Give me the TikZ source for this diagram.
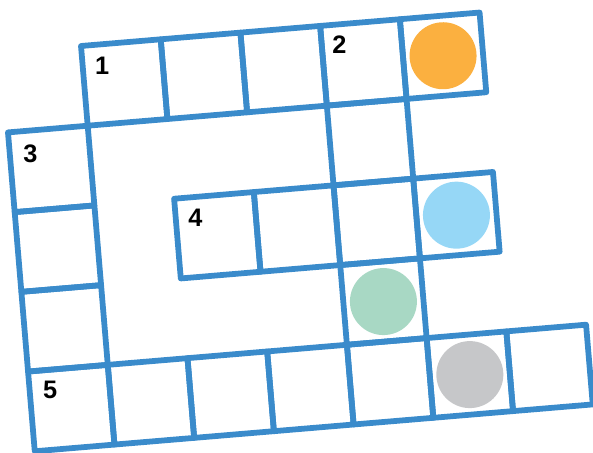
\documentclass[tikz,border=0pt]{standalone}
\usepackage{fontspec}
\setmainfont{Liberation Sans}
\usetikzlibrary{positioning,calc}
\definecolor{gridblue}{HTML}{3A8BCB}
\definecolor{tokorange}{HTML}{FBB040}
\definecolor{tokblue}{HTML}{96D7F6}
\definecolor{tokgreen}{HTML}{A8D8C4}
\definecolor{tokgrey}{HTML}{C6C7C9}

\begin{document}
\begin{tikzpicture}[
  x=0.025cm, y=-0.025cm,
  cell/.style={draw=gridblue,line width=4.1pt,line join=round,line cap=round},
  num/.style={anchor=north west,inner sep=0pt,font=\fontsize{18}{18}\selectfont\bfseries},
  token/.style={radius=33.5}
]
  \useasboundingbox (0,0) rectangle (593,453);
  \begin{scope}[shift={(81,46)},rotate=4.8]
    % cell corners: column c, row r
    \foreach \c/\r in {1/0,2/0,3/0,4/0,5/0,
                       0/1,4/1,
                       0/2,2/2,3/2,4/2,5/2,
                       0/3,4/3,
                       0/4,1/4,2/4,3/4,4/4,5/4,6/4}
      \coordinate (c\c-\r) at ({(\c-1)*80},{\r*80});

    \foreach \c/\r in {1/0,2/0,3/0,4/0,5/0,
                       0/1,4/1,
                       0/2,2/2,3/2,4/2,5/2,
                       0/3,4/3,
                       0/4,1/4,2/4,3/4,4/4,5/4,6/4}
      \draw[cell] (c\c-\r) rectangle ++(80,80);

    \node[num] (n1) at ($(c1-0)+(13,12)$) {1};
    \node[num] (n2) at ($(c4-0)+(11,11)$) {2};
    \node[num] (n3) at ($(c0-1)+(14,13)$) {3};
    \node[num] (n4) at ($(c2-2)+(13,11)$) {4};
    \node[num] (n5) at ($(c0-4)+(14,10)$) {5};

    \fill[tokorange] ($(c5-0)+(40,40)$) circle[token];
    \fill[tokblue]   ($(c5-2)+(40,40)$) circle[token];
    \fill[tokgreen]  ($(c4-3)+(40,40)$) circle[token];
    \fill[tokgrey]   ($(c5-4)+(40,40)$) circle[token];
  \end{scope}
\end{tikzpicture}
\end{document}
